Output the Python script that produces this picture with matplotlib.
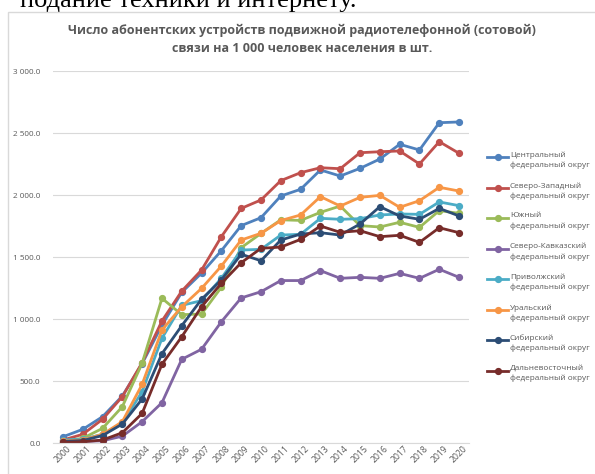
import matplotlib
matplotlib.use("Agg")
import matplotlib.pyplot as plt
from matplotlib.patches import Rectangle
from matplotlib.lines import Line2D
from matplotlib.ticker import FuncFormatter

plt.rcParams['font.family'] = ['Open Sans', 'DejaVu Sans']

years = list(range(2000, 2021))

central = [50, 110, 212, 379, 640, 950, 1215, 1370, 1551, 1753, 1817, 1992, 2046, 2202, 2153, 2215, 2290, 2409, 2363, 2583, 2589]
north_west = [24, 70, 191, 374, 648, 984, 1225, 1395, 1664, 1892, 1960, 2116, 2180, 2220, 2212, 2341, 2349, 2355, 2250, 2430, 2336]
south = [15, 38, 118, 293, 643, 1167, 1035, 1040, 1256, 1575, 1690, 1800, 1795, 1860, 1911, 1753, 1742, 1780, 1739, 1874, 1852]
caucasus = [5, 12, 18, 55, 172, 325, 675, 756, 978, 1170, 1220, 1310, 1310, 1390, 1328, 1336, 1328, 1368, 1328, 1401, 1336]
volga = [25, 30, 70, 160, 414, 845, 1110, 1148, 1328, 1556, 1562, 1677, 1683, 1812, 1804, 1809, 1839, 1847, 1844, 1944, 1914]
ural = [15, 25, 70, 172, 473, 911, 1099, 1247, 1427, 1637, 1691, 1794, 1839, 1987, 1911, 1981, 1997, 1901, 1954, 2062, 2032]
siberia = [12, 20, 60, 153, 355, 720, 946, 1159, 1315, 1522, 1470, 1637, 1685, 1696, 1677, 1766, 1906, 1831, 1804, 1892, 1831]
far_east = [5, 10, 24, 83, 239, 635, 857, 1099, 1288, 1454, 1570, 1580, 1642, 1750, 1699, 1712, 1664, 1675, 1618, 1736, 1696]

series = [central, north_west, south, caucasus, volga, ural, siberia, far_east]
labels = [
    "Центральный\nфедеральный округ",
    "Северо-Западный\nфедеральный округ",
    "Южный\nфедеральный округ",
    "Северо-Кавказский\nфедеральный округ",
    "Приволжский\nфедеральный округ",
    "Уральский\nфедеральный округ",
    "Сибирский\nфедеральный округ",
    "Дальневосточный\nфедеральный округ",
]
colors = ["#4F81BD", "#C0504D", "#9BBB59", "#8064A2", "#4BACC6", "#F79646", "#2C4D75", "#772C2A"]

W, H = 595, 474
fig = plt.figure(figsize=(W / 100, H / 100), dpi=100)

# chart frame + cut-off document text above it
fig.add_artist(Rectangle((8 / W, -0.01), 1.0, 1 - 12 / H + 0.01, transform=fig.transFigure,
                         fill=False, edgecolor="#D9D9D9", linewidth=1.0))
fig.text(20 / W, 1 - 7 / H, "подание техники и интернету.", family="Liberation Serif",
         fontsize=19, color="black", va="baseline", ha="left")

ax = fig.add_axes([53 / W, 31 / H, 416 / W, 372 / H])
x = list(range(len(years)))
for vals, lab, col in zip(series, labels, colors):
    ax.plot(x, vals, color=col, linewidth=2.0, marker="o", markersize=4.2, label=lab)

ax.set_xlim(-0.5, len(years) - 0.5)
ax.set_ylim(0, 3000)
ax.set_yticks(range(0, 3001, 500))
ax.yaxis.set_major_formatter(FuncFormatter(lambda v, p: f"{v:,.1f}".replace(",", " ")))
ax.set_xticks(x)
ax.set_xticklabels(years, rotation=45, ha="center", fontsize=6.2, color="#595959")
ax.tick_params(axis="y", labelsize=5.9, labelcolor="#595959", length=0, pad=9)
ax.tick_params(axis="x", length=0, pad=1)
ax.grid(axis="y", color="#D9D9D9", linewidth=0.8)
ax.set_axisbelow(True)
for s in ["top", "right", "left"]:
    ax.spines[s].set_visible(False)
ax.spines["bottom"].set_color("#D9D9D9")

fig.text(302 / W, 1 - 30 / H, "Число абонентских устройств подвижной радиотелефонной (сотовой)",
         ha="center", va="center", fontsize=9, fontweight="bold", color="#595959")
fig.text(302 / W, 1 - 48 / H, "связи на 1 000 человек населения в шт.",
         ha="center", va="center", fontsize=9, fontweight="bold", color="#595959")

# legend: marker aligned with first text line, as Excel draws it
for i, (lab, col) in enumerate(zip(labels, colors)):
    yy = 1 - (157 + i * 30.5) / H
    fig.add_artist(Line2D([487 / W, 508 / W], [yy, yy], transform=fig.transFigure,
                          color=col, linewidth=2.0))
    fig.add_artist(Line2D([497.5 / W], [yy], transform=fig.transFigure, color=col,
                          marker="o", markersize=4.2))
    fig.text(510 / W, yy + 5.5 / H, lab, ha="left", va="top", fontsize=5.9,
             color="#595959", linespacing=1.5)

fig.savefig("out.png", dpi=100)
